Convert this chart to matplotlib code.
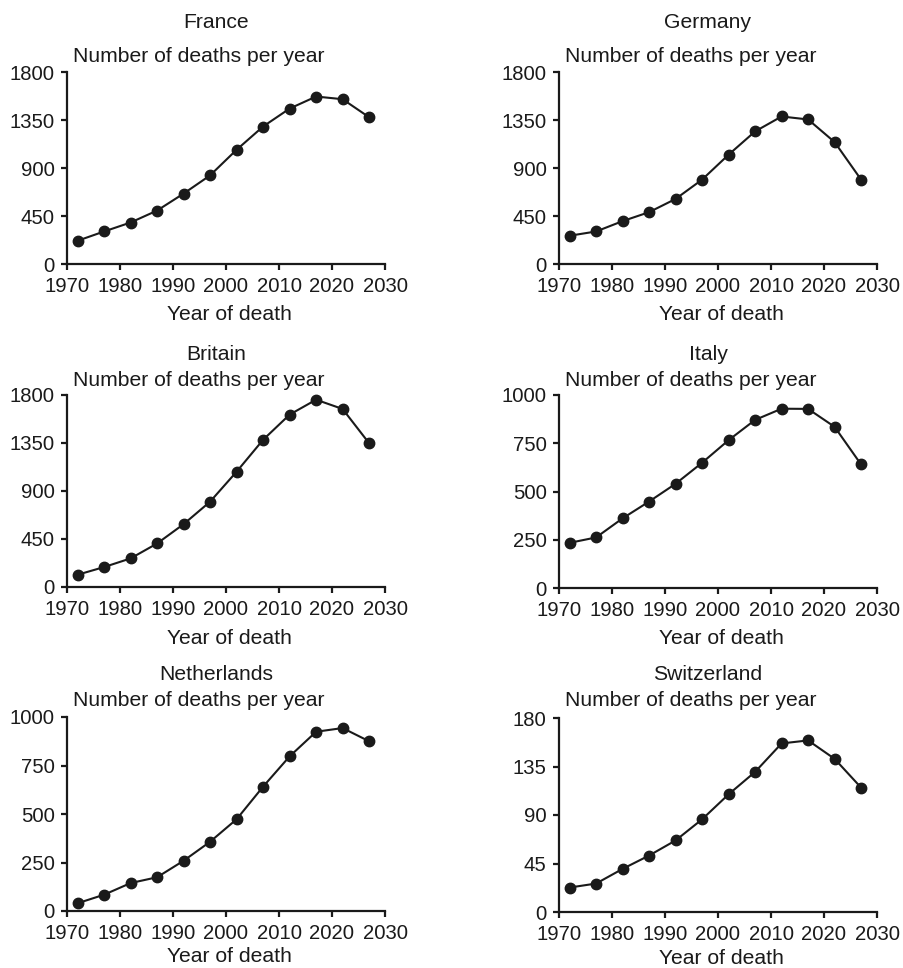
import matplotlib
matplotlib.use("Agg")
import matplotlib.pyplot as plt

plt.rcParams['font.family'] = ['Liberation Sans', 'DejaVu Sans']

years = [1972, 1977, 1982, 1987, 1992, 1997, 2002, 2007, 2012, 2017, 2022, 2027]

france = [218, 305, 389, 501, 660, 831, 1071, 1289, 1457, 1570, 1545, 1376]
germany = [265, 305, 402, 486, 610, 791, 1025, 1243, 1383, 1355, 1143, 791]
britain = [115, 187, 268, 408, 589, 800, 1081, 1380, 1616, 1756, 1669, 1348]
italy = [234, 262, 361, 448, 540, 649, 766, 871, 929, 928, 835, 640]
netherlands = [40, 84, 144, 174, 259, 357, 473, 641, 797, 924, 943, 875]
switzerland = [22.7, 26.4, 40.0, 52.4, 66.4, 86.0, 109.2, 130.0, 156.4, 159.2, 142.1, 115.4]

countries = ["France", "Germany", "Britain", "Italy", "Netherlands", "Switzerland"]
series = [france, germany, britain, italy, netherlands, switzerland]
yticks_list = [
    [0, 450, 900, 1350, 1800],
    [0, 450, 900, 1350, 1800],
    [0, 450, 900, 1350, 1800],
    [0, 250, 500, 750, 1000],
    [0, 250, 500, 750, 1000],
    [0, 45, 90, 135, 180],
]
xticks = [1970, 1980, 1990, 2000, 2010, 2020, 2030]

W, H = 904, 968
fig = plt.figure(figsize=(W / 100, H / 100), dpi=100)
ink = "#1a1a1a"
fs_tick = 14.6
fs_text = 15.2

# pixel layout: (left, top, right, bottom)
boxes = [
    (67, 72, 385, 264), (559, 72, 877, 264),
    (67, 395, 385, 587), (559, 395, 877, 588),
    (67, 717, 385, 911), (559, 718, 877, 912),
]
title_y = [22, 22, 355, 355, 675, 675]
ylab_y = [57, 57, 380, 380, 700, 700]
xlab_dy = [51, 51, 51, 51, 46, 46]

for i, (name, vals, yt) in enumerate(zip(countries, series, yticks_list)):
    l, t, r, b = boxes[i]
    ax = fig.add_axes([l / W, 1 - b / H, (r - l) / W, (b - t) / H])
    ax.plot(years, vals, color=ink, lw=1.5, marker='o', ms=7.5,
            mfc=ink, mec=ink, clip_on=False, zorder=3)
    ax.set_xlim(1970, 2030)
    ax.set_ylim(yt[0], yt[-1])
    ax.set_xticks(xticks)
    ax.set_yticks(yt)
    ax.set_xticklabels([str(x) for x in xticks], fontsize=fs_tick, color=ink)
    ax.set_yticklabels([str(y) for y in yt], fontsize=fs_tick, color=ink)
    for s in ['top', 'right']:
        ax.spines[s].set_visible(False)
    for s in ['left', 'bottom']:
        ax.spines[s].set_linewidth(1.6)
        ax.spines[s].set_color(ink)
    ax.tick_params(axis='both', direction='out', length=4.5, width=1.6,
                   color=ink)
    ax.tick_params(axis='x', pad=5)
    ax.tick_params(axis='y', pad=4.5)
    ax.set_facecolor('none')

    cx = (l + r) / 2 - 10
    fig.text(cx / W, 1 - title_y[i] / H, name, ha='center', va='center',
             fontsize=fs_text, color=ink)
    fig.text((l + 6) / W, 1 - ylab_y[i] / H, "Number of deaths per year",
             ha='left', va='center', fontsize=fs_text, color=ink)
    fig.text((l + 162) / W, 1 - (b + xlab_dy[i]) / H, "Year of death",
             ha='center', va='center', fontsize=fs_text, color=ink)

fig.savefig("out.png", dpi=100, facecolor='white')
